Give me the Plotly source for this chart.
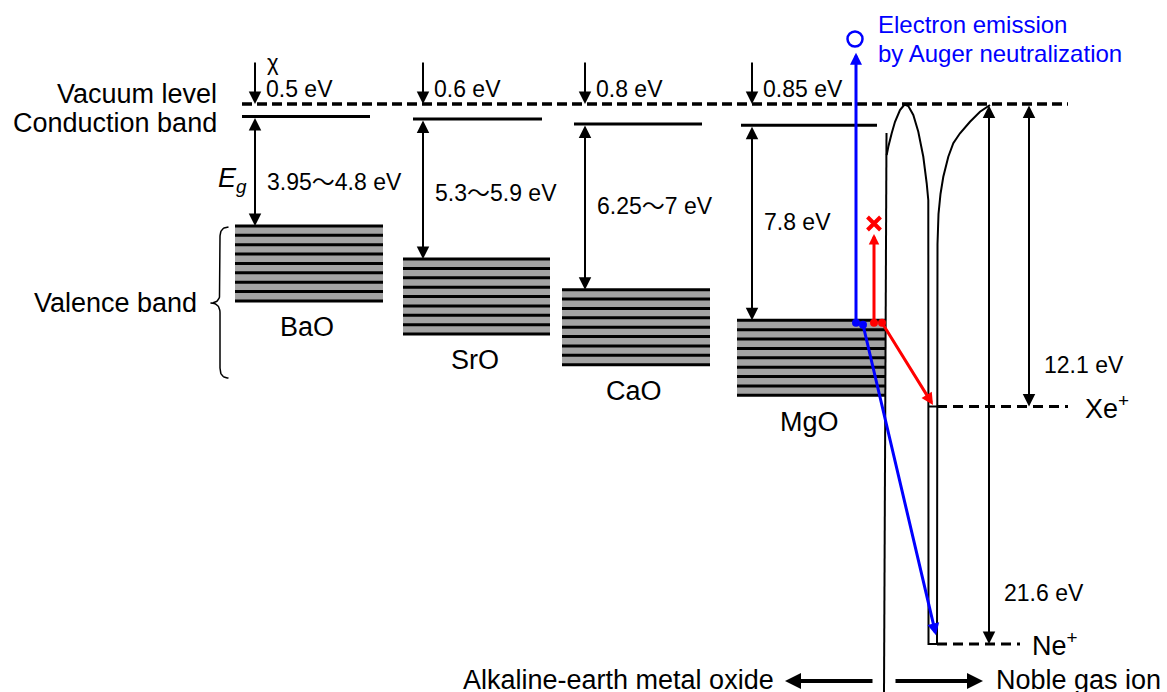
import numpy as np
import plotly.graph_objects as go

# ---------------- data (eV, measured from the vacuum level) ----------------
materials = ["BaO", "SrO", "CaO", "MgO"]
electron_affinity = [0.5, 0.6, 0.8, 0.85]      # chi
gap_low = [3.95, 5.3, 6.25, 7.8]               # band gap range
gap_high = [4.8, 5.9, 7.0, 7.8]
valence_width = [3.0, 3.0, 3.0, 3.0]

ion_names = ["Xe", "Ne"]
ionization_energy = [12.1, 21.6]

# schematic ion potential in front of the MgO surface: horizontal position, energy (eV)
well_x = [886.7, 888.3, 891.7, 895.0, 900.0, 904.5, 908.3, 913.3, 918.3, 923.3,
          926.7, 928.3, 928.5, 937.0, 937.5, 938.5, 940.5, 943.3, 948.3, 953.3,
          960.0, 970.0, 980.0, 990.0]
well_E = [-2.04, -1.71, -1.17, -0.71, -0.24, -0.02, -0.08, -0.44, -1.11, -2.11,
          -3.17, -3.85, -21.6, -21.6, -5.6, -4.4, -3.6, -2.91, -2.11, -1.57,
          -1.17, -0.71, -0.31, -0.04]

# ---------------- layout ----------------
W, H = 1167, 692
PX_PER_EV = 25.0
VAC_PX = 104
Y_TOP = VAC_PX / PX_PER_EV
Y_BOT = -(H - VAC_PX) / PX_PER_EV

FONT = "Liberation Sans, Arial, Helvetica, sans-serif"
GRAY = "#a3a3a3"
BLUE = "#0000ff"
RED = "#ff0000"
WORD = 27      # size of word labels
NUM = 23       # size of numeric labels

arrow_x = [255, 423, 585, 752]
cb_span = [(242, 370), (413, 542), (574, 702), (741, 877)]
vb_span = [(235, 383), (403, 550), (562, 710), (737, 886)]
gap_label_shift = [-0.35, -0.08, 0.12, 0.05]
vac_span = (242, 1068)
surface_x = (886.5, 884.0)
ion_line_end = [1068, 1020]        # Xe, Ne
ion_label_x = [1084, 1031]
ion_arrow_x = [1029, 989]
ion_value_label_E = [-10.45, -19.55]

gap_mid = [(lo + hi) / 2 for lo, hi in zip(gap_low, gap_high)]
cb_E = [-c for c in electron_affinity]
vb_top_E = [-(c + g) for c, g in zip(electron_affinity, gap_mid)]
vb_bot_E = [t - w for t, w in zip(vb_top_E, valence_width)]

fig = go.Figure()
ann = []
TILDE = "<span style=\"font-family:'Noto Sans CJK JP'\">～</span>"


def txt(x, y, s, size=NUM, anchor="left", color="black", yanchor="middle"):
    ann.append(dict(x=x, y=y, xref="x", yref="y", text=s, showarrow=False,
                    xanchor=anchor, yanchor=yanchor, borderpad=0,
                    font=dict(family=FONT, size=size, color=color)))


def arrow(x0, y0, x1, y1, color="black", width=2, size=1.25, both=False):
    ann.append(dict(x=x1, y=y1, ax=x0, ay=y0, xref="x", yref="y",
                    axref="x", ayref="y", text="", showarrow=True,
                    arrowhead=2, startarrowhead=2, arrowsize=size,
                    startarrowsize=size, arrowwidth=width, arrowcolor=color,
                    arrowside="end+start" if both else "end",
                    standoff=0, startstandoff=0))


def segs(pairs):
    xs, ys = [], []
    for (xa, ya, xb, yb) in pairs:
        xs += [xa, xb, None]
        ys += [ya, yb, None]
    return xs, ys


def line_trace(xs, ys, color="black", width=2, dash=None):
    fig.add_trace(go.Scatter(x=xs, y=ys, mode="lines", hoverinfo="skip",
                             line=dict(color=color, width=width, dash=dash),
                             showlegend=False))


# valence bands: grey fill with black stripes
bx, by = [], []
stripes = []
for (x0, x1), top, bot in zip(vb_span, vb_top_E, vb_bot_E):
    bx += [x0, x1, x1, x0, x0, None]
    by += [top, top, bot, bot, top, None]
    for k in range(9):
        e = top + (bot - top) * k / 8
        stripes.append((x0, e, x1, e))
fig.add_trace(go.Scatter(x=bx, y=by, mode="lines", fill="toself",
                         fillcolor=GRAY, line=dict(width=0), hoverinfo="skip",
                         showlegend=False))
line_trace(*segs(stripes), width=3)

# conduction band edges
line_trace(*segs([(x0, e, x1, e) for (x0, x1), e in zip(cb_span, cb_E)]), width=3)

# vacuum level
line_trace([vac_span[0], vac_span[1]], [0, 0], width=3.5, dash="10px,5px")

# MgO surface and the ion potential well
line_trace([surface_x[0], surface_x[1]], [-1.16, Y_BOT], width=2)
line_trace(well_x, well_E, width=2)

# ion levels
xe_E, ne_E = -ionization_energy[0], -ionization_energy[1]
line_trace([928.5, 937], [xe_E, xe_E], width=2)
line_trace([937, ion_line_end[0]], [xe_E, xe_E], width=3, dash="10px,6px")
line_trace([937, ion_line_end[1]], [ne_E, ne_E], width=3, dash="10px,6px")
for name, E, lx in zip(ion_names, ionization_energy, ion_label_x):
    txt(lx, -E, f"{name}<sup>+</sup>", size=WORD)
for E, ax_, ly in zip(ionization_energy, ion_arrow_x, ion_value_label_E):
    arrow(ax_, 0, ax_, -E, both=True)
    txt(ax_ + 14, ly, f"{E:g} eV")

# oxide columns
for i, m in enumerate(materials):
    xa = arrow_x[i]
    arrow(xa, 1.72, xa, 0)                                   # chi
    txt(xa + 10, 0.6, f"{electron_affinity[i]:g} eV")
    arrow(xa, cb_E[i], xa, vb_top_E[i], both=True)           # band gap
    lo, hi = gap_low[i], gap_high[i]
    lab = f"{lo:g}{TILDE}{hi:g} eV" if lo != hi else f"{lo:g} eV"
    txt(xa + 11, (cb_E[i] + vb_top_E[i]) / 2 + gap_label_shift[i], lab)
    txt((vb_span[i][0] + vb_span[i][1]) / 2 - 2, vb_bot_E[i] - 1.05, m,
        size=WORD, anchor="center")

txt(266, 1.66, "χ", size=22)
txt(218, 0.4, "Vacuum level", size=WORD, anchor="right")
txt(218, -0.76, "Conduction band", size=WORD, anchor="right")
txt(248, (cb_E[0] + vb_top_E[0]) / 2 - 0.35, "<i>E</i><sub><i>g</i></sub>",
    size=WORD, anchor="right")
txt(198, -7.96, "Valence band", size=WORD, anchor="right")


# brace next to the valence bands
def qbez(p0, p1, p2, n=14):
    t = np.linspace(0, 1, n)
    return ((1 - t) ** 2 * p0[0] + 2 * (1 - t) * t * p1[0] + t ** 2 * p2[0],
            (1 - t) ** 2 * p0[1] + 2 * (1 - t) * t * p1[1] + t ** 2 * p2[1])


b_top, b_bot, b_mid = -4.92, -10.96, -7.96
xr, xc, xt, r = 228.5, 220.0, 210.5, 0.4
parts = [qbez((xr, b_top), (xc, b_top), (xc, b_top - r)),
         qbez((xc, b_mid + r), (xc, b_mid), (xt, b_mid)),
         qbez((xt, b_mid), (xc, b_mid), (xc, b_mid - r)),
         qbez((xc, b_bot + r), (xc, b_bot), (xr, b_bot))]
brx = np.concatenate([p[0] for p in parts])
bry = np.concatenate([p[1] for p in parts])
line_trace(list(brx), list(bry), width=1.5)

# Auger neutralization at MgO
mg_top = vb_top_E[3]
dot_E = mg_top - 0.1
xe_tip = -(2 * (-mg_top) - ionization_energy[0])   # electron energy after Xe+ neutralization
ne_tip = min(-(2 * (-mg_top) - ionization_energy[1]), 2.05)
arrow(856, dot_E, 856, ne_tip, color=BLUE, width=3, size=0.8)
arrow(863, dot_E - 0.08, 936, ne_E + 0.35, color=BLUE, width=3, size=0.8)
arrow(874, dot_E, 874, xe_tip, color=RED, width=3, size=0.7)
arrow(882, dot_E, 933, xe_E + 0.06, color=RED, width=3, size=0.8)
fig.add_trace(go.Scatter(x=[856, 863], y=[dot_E, dot_E - 0.08], mode="markers",
                         marker=dict(color=BLUE, size=8), hoverinfo="skip",
                         showlegend=False))
fig.add_trace(go.Scatter(x=[874, 882], y=[dot_E, dot_E], mode="markers",
                         marker=dict(color=RED, size=8), hoverinfo="skip",
                         showlegend=False))
fig.add_trace(go.Scatter(x=[855], y=[ne_tip + 0.55], mode="markers",
                         marker=dict(symbol="circle-open", color=BLUE, size=15,
                                     line=dict(width=2.5, color=BLUE)),
                         hoverinfo="skip", showlegend=False))
fig.add_trace(go.Scatter(x=[874], y=[xe_tip + 0.42], mode="markers",
                         marker=dict(symbol="x-thin", color=RED, size=13,
                                     line=dict(width=4, color=RED)),
                         hoverinfo="skip", showlegend=False))
txt(877, 3.2, "Electron emission", size=24, color=BLUE)
txt(877, 2.02, "by Auger neutralization", size=24, color=BLUE)

# bottom direction labels
arrow(874, -23.08, 785, -23.08, width=4, size=0.8)
arrow(894, -23.08, 983, -23.08, width=4, size=0.8)
txt(775, -23.04, "Alkaline-earth metal oxide", size=WORD, anchor="right")
txt(995, -23.04, "Noble gas ion", size=WORD)

fig.update_layout(
    width=W, height=H, margin=dict(l=0, r=0, t=0, b=0),
    paper_bgcolor="white", plot_bgcolor="white", hovermode=False,
    annotations=ann,
    xaxis=dict(range=[0, W], visible=False, fixedrange=True),
    yaxis=dict(range=[Y_BOT, Y_TOP], visible=False, fixedrange=True),
)
fig.write_html("out.html")
